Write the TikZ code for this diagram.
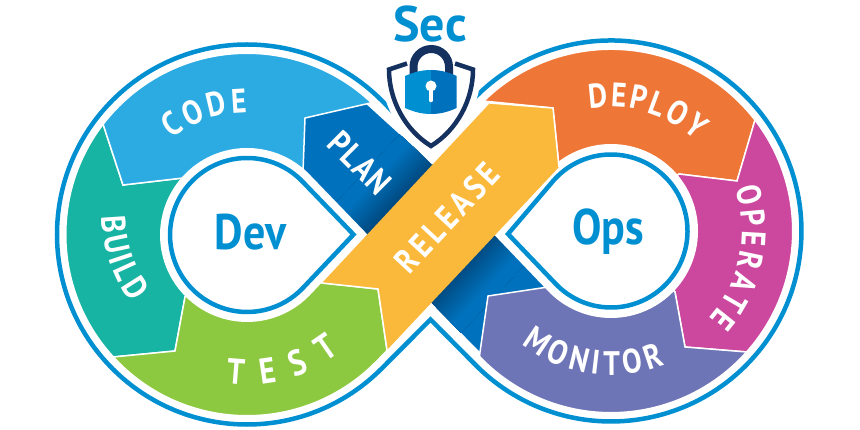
\documentclass[tikz,border=0pt]{standalone}
\usepackage{fontspec}
\setmainfont{PT Sans}
\newfontfamily\labf{PT Sans}[FakeStretch=0.86]
\newfontfamily\bigf{PT Sans}[FakeStretch=0.88]
\newfontfamily\secf{PT Sans}[FakeStretch=1.0]
\usetikzlibrary{decorations.text}
\definecolor{ringblue}{HTML}{0090D2}
\definecolor{codec}{HTML}{2CABE2}
\definecolor{planc}{HTML}{0071BC}
\definecolor{plandark}{HTML}{00497F}
\definecolor{buildc}{HTML}{17B3A3}
\definecolor{testc}{HTML}{8DC940}
\definecolor{releasec}{HTML}{FBB93C}
\definecolor{deployc}{HTML}{EE7738}
\definecolor{operatec}{HTML}{CB489E}
\definecolor{monitorc}{HTML}{6E75B6}
\definecolor{navy}{HTML}{14315F}
\newcommand\outerpath{(431,150) -- (469.4,103.5) arc[start angle=138,end angle=-135,radius=190.5pt] -- (430.5,319.5) -- (381.35,368.85) arc[start angle=-45,end angle=-315,radius=190pt] -- cycle}
\newcommand\devpath{(353.5,234.5) -- (302.7,181.8) arc[start angle=43.7,end angle=316.3,radius=77pt] -- cycle}
\newcommand\opspath{(508,234) -- (552.7,181.5) arc[start angle=139.67,end angle=-136.33,radius=76.5pt] -- cycle}
\newcommand\planpath{(366,104) -- (305,118) -- (303,172) -- (480,352) -- (488,296) -- (548,287) -- (497,235) -- (432,164) -- cycle}
\newcommand\shieldpath{(407,63.5) -- (389,69.5) .. controls (389,100) and (405,130) .. (431,146) .. controls (457,130) and (473,100) .. (473,69.5) -- (455,63.5)}
\newcommand\curvelab[6]{\path[decorate,decoration={text along path,text color=white,text align={fit to path},text={|\fontsize{#6}{#6}\labf\bfseries|#5}}] ([shift={(#1)}]#3:#2pt) arc[start angle=#3,end angle=#4,radius=#2pt];}
\tikzset{
  seg/.style={draw=white,line width=1.5pt,line join=miter},
  ring/.style={draw=ringblue,line width=4.5pt,line join=miter},
  halo/.style={draw=white,line join=miter},
  biglab/.style={text=ringblue,font=\fontsize{50}{50}\bigf\bfseries,inner sep=0pt},
  strip/.style={white,font=\fontsize{34}{34}\labf\bfseries,inner sep=0pt}
}
\begin{document}
\begin{tikzpicture}[x=1pt,y=-1pt]
\path[use as bounding box,fill=white] (0,0) rectangle (860,430);
\begin{scope}
  \clip \outerpath;
  \fill[planc] \planpath;
  \begin{scope}
    \clip \planpath;
    \begin{scope}[shift={(431,233)},rotate=47]
      \foreach \i in {0,...,16}{
        \pgfmathsetmacro\mixp{\i*100/16}
        \pgfmathsetmacro\vlo{45+\i*2}
        \pgfmathsetmacro\vhi{-44-\i*2}
        \fill[planc!\mixp!plandark] (-170,\vlo) rectangle (170,90);
        \fill[planc!\mixp!plandark] (-170,\vhi) rectangle (170,-90);
      }
    \end{scope}
  \end{scope}
  \path[seg,fill=buildc] (183,178) -- (123,185) -- (103,124) -- (93,94) -- (20,140) -- (20,366) -- (113,357) -- (175,351) -- (185,297) -- (247,235) -- cycle;
  \path[seg,fill=codec] (123,185) -- (103,124) -- (93,94) -- (150,10) -- (340,10) -- (400,96) -- (366,104) -- (305,118) -- (303,172) -- (247,235) -- (183,178) -- cycle;
  \path[seg,fill=testc] (20,366) -- (113,357) -- (175,351) -- (185,297) -- (247,235) -- (322,283) -- (378,289) -- (387,350) -- (400,440) -- (20,440) -- cycle;
  \path[seg,fill=deployc] (470,100) -- (500,10) -- (700,10) -- (770,70) -- (755,120) -- (737,181) -- (679,174) -- (611,231) -- (559,167) -- (553,108) -- (493,102) -- cycle;
  \path[seg,fill=operatec] (679,174) -- (737,181) -- (755,120) -- (770,70) -- (850,70) -- (850,360) -- (747,352) -- (685,347) -- (675,292) -- (611,231) -- cycle;
  \path[seg,fill=monitorc] (488,296) -- (548,287) -- (611,231) -- (675,292) -- (685,347) -- (747,352) -- (850,360) -- (850,440) -- (470,440) -- (480,352) -- cycle;
\end{scope}
% white gaps round the ring lines
\draw[halo,line width=19pt] \outerpath;
\path[halo,fill=white,line width=20pt] \devpath;
\path[halo,fill=white,line width=21pt] \opspath;
% release band on top
\fill[releasec] (490,103) -- (553,108) -- (559,167) -- (387,350) -- (378,289) -- (322,283) -- cycle;
\draw[seg] (490,103) -- (553,108) -- (559,167);
\draw[seg] (322,283) -- (378,289) -- (387,350);
% ring lines
\draw[ring] \outerpath;
\draw[ring] \devpath;
\draw[ring] \opspath;
% shield
\path[draw=white,fill=white,line width=16.5pt,line join=round] \shieldpath -- cycle;
\draw[navy,line width=4.5pt,line join=miter] \shieldpath;
\draw[navy,line width=8pt] (413.5,76) -- (413.5,66.75) arc[start angle=180,end angle=0,radius=17.75pt] -- (449,76);
\fill[ringblue] (431,70) .. controls (420,70) and (412,73) .. (405,76) -- (405,108) .. controls (412,111) and (420,114) .. (431,114) -- cycle;
\fill[planc] (431,70) .. controls (442,70) and (450,73) .. (456.7,76) -- (456.7,108) .. controls (450,111) and (442,114) .. (431,114) -- cycle;
\fill[white] (431,86) circle[radius=5.5pt];
\draw[white,line width=4.6pt,line cap=round] (431,88) -- (431,100);
% labels
\node[biglab,font=\fontsize{50}{50}\secf\bfseries] (sec) at (430,24) {Sec};
\node[biglab] (dev) at (250.5,232) {Dev};
\node[biglab] (ops) at (608,232) {Ops};
\node[strip,rotate=47] (release) at (447,218) {R\kern4ptE\kern4ptL\kern4ptE\kern4ptA\kern4ptS\kern4ptE};
\node[strip,rotate=-45] (plan) at (360,163) {P\kern1.5ptL\kern1.5ptA\kern1.5ptN};
\curvelab{247,234.5}{122}{128}{90}{CODE}{34}
\curvelab{251,215}{149}{180.5}{216}{BUILD}{34}
\curvelab{247,234.5}{150}{262}{308}{TEST}{36}
\curvelab{611,231}{124}{100}{47}{DEPLOY}{34}
\curvelab{611,231}{131}{19}{-42}{OPERATE}{34}
\curvelab{611,231}{144}{231.5}{292}{MONITOR}{34}
\end{tikzpicture}
\end{document}
